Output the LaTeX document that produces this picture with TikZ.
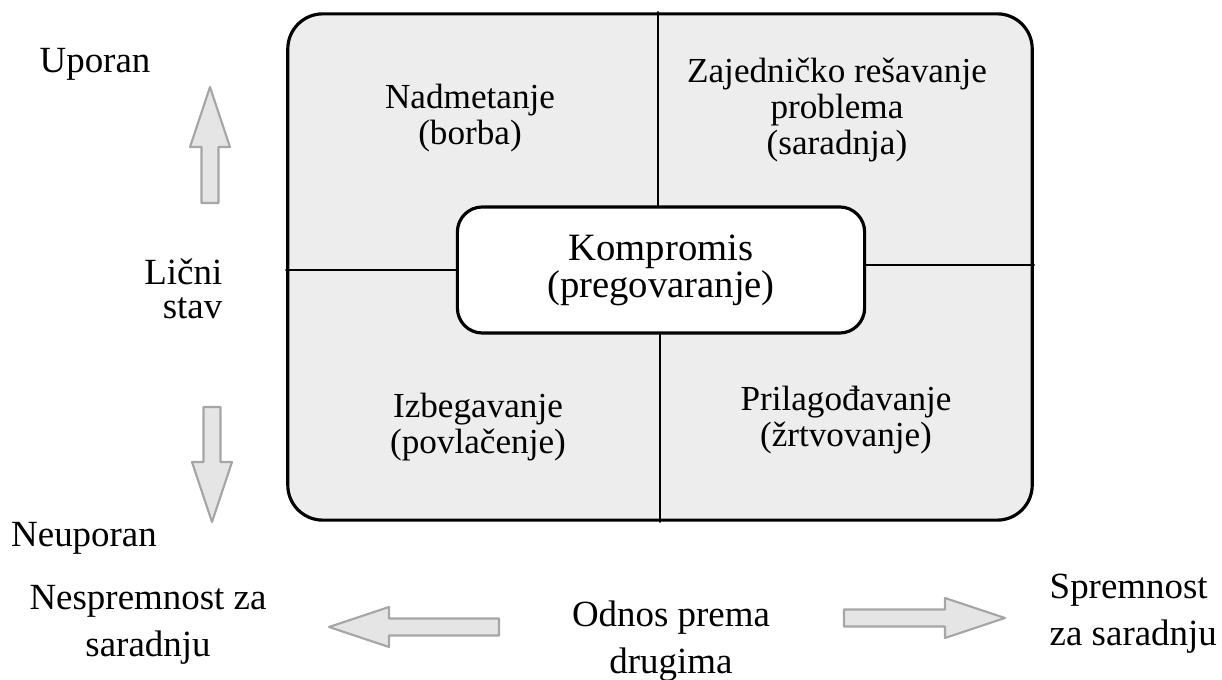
\documentclass[tikz,border=0pt]{standalone}
\usepackage{fontspec}
\setmainfont{Liberation Serif}
\tikzset{
	pics/strelica/.style={code={\filldraw[fill=gray!20,draw=gray!70,line width=0.6pt]
		(0,-8.5)--(#1-60,-8.5)--(#1-60,-20)--(#1,0)--(#1-60,20)--(#1-60,8.5)--(0,8.5)--cycle;}}
}
\begin{document}
\begin{tikzpicture}[x=0.01cm,y=-0.01cm,line join=round,line cap=round,
	okvir/.style={draw,line width=0.9pt,fill=gray!14,rounded corners=0.35cm,minimum width=7.44cm,minimum height=5.06cm},
	kutija/.style={draw,line width=0.9pt,fill=white,rounded corners=0.25cm,minimum width=4.07cm,minimum height=1.26cm,align=center,font=\fontsize{11}{10.5}\selectfont},
	polje/.style={align=center,font=\fontsize{10}{10.3}\selectfont},
	oznaka/.style={inner sep=0pt,font=\fontsize{10.5}{13.3}\selectfont}]
	\useasboundingbox (0,0) rectangle (1222,680);
	\node[okvir] (okvir) at (660,267) {};
	\node[kutija] (komp) at (661,270) {Kompromis\\(pregovaranje)};
	\draw[line width=0.8pt] (okvir.north -| 658,0)--(komp.north -| 658,0)
		(komp.south -| 660,0)--(okvir.south -| 660,0)
		(okvir.west |- 0,270)--(komp.west |- 0,270)
		(komp.east |- 0,265)--(okvir.east |- 0,265);
	\foreach \ime/\mesto/\tekst in {nad/{470,118}/{Nadmetanje\\(borba)},
		zaj/{837,110}/{Zajedničko rešavanje\\problema\\(saradnja)},
		izb/{478,427}/{Izbegavanje\\(povlačenje)},
		pri/{846,420}/{Prilagođavanje\\(žrtvovanje)}}
	{\node[polje] (\ime) at (\mesto) {\tekst};}
	% oznake oko kvadrata
	\node[oznaka,anchor=base] (uporan) at (95,73) {Uporan};
	\node[oznaka,anchor=east,align=right,font=\fontsize{10.5}{9.5}\selectfont] (stav) at (223,289) {Lični\\stav};
	\node[oznaka,anchor=base] (neuporan) at (84,547) {Neuporan};
	\node[oznaka,align=center] (nespremnost) at (148,625) {Nespremnost za\\saradnju};
	\node[oznaka,align=center] (odnos) at (671,641) {Odnos prema\\drugima};
	\node[oznaka,anchor=west,align=left] (spremnost) at (1049,614) {Spremnost\\za saradnju};
	\foreach \ug/\p/\d in {90/{210,203}/116,-90/{212,407}/115,180/{499,627}/170,0/{844,618}/161}
	{\pic[rotate=\ug] at (\p) {strelica=\d};}
\end{tikzpicture}
\end{document}
